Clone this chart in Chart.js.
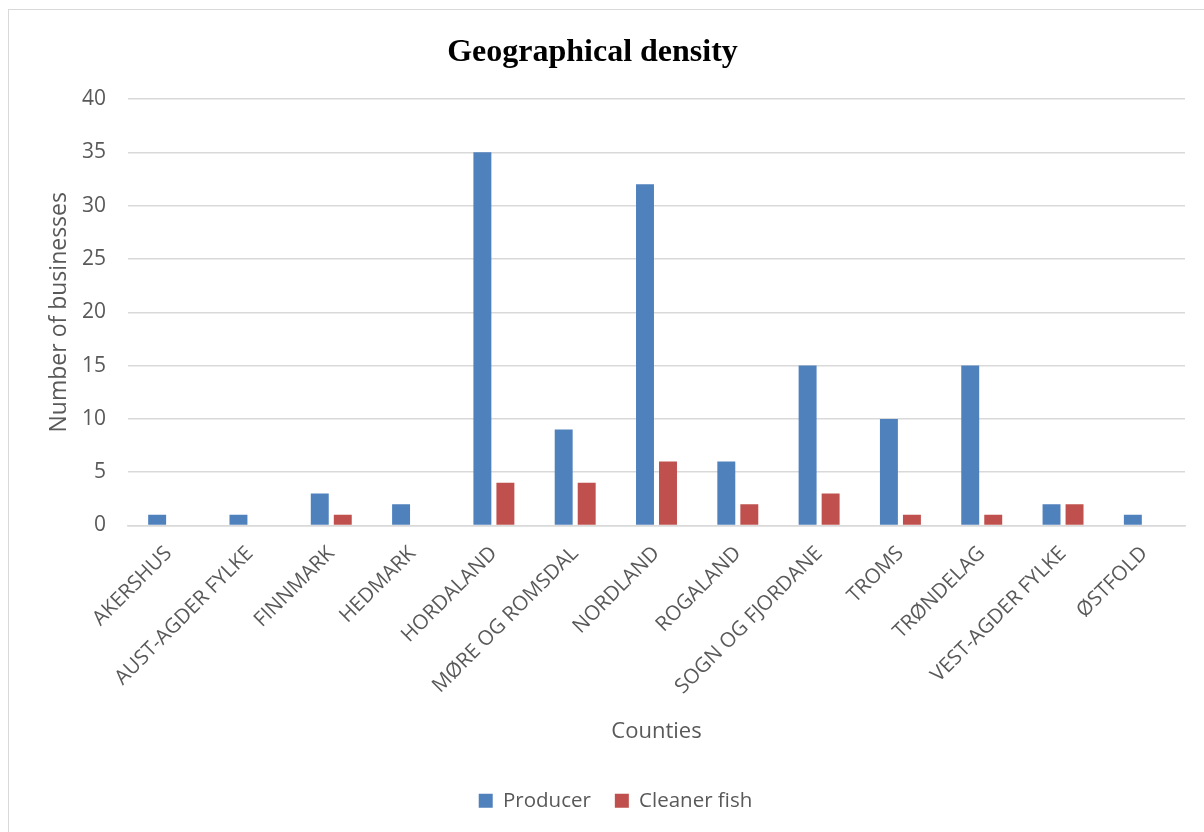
<!DOCTYPE html>
<html>
<head>
<meta charset="utf-8">
<script src="https://cdn.jsdelivr.net/npm/chart.js@4"></script>
<style>
  html, body { margin: 0; padding: 0; background: #ffffff; }
  #wrap { position: relative; width: 1204px; height: 832px; overflow: hidden; }
  #frame { position: absolute; left: 8px; top: 9px; width: 1200px; height: 830px; border: 1px solid #d9d9d9; box-sizing: border-box; }
  #c { position: absolute; left: 0; top: 0; }
</style>
</head>
<body>
<div id="wrap">
  <div id="frame"></div>
  <canvas id="c" width="1204" height="832"></canvas>
</div>
<script>
// Counties of Norway and number of businesses per county
const counties = [
  'AKERSHUS', 'AUST-AGDER FYLKE', 'FINNMARK', 'HEDMARK', 'HORDALAND',
  'MØRE OG ROMSDAL', 'NORDLAND', 'ROGALAND', 'SOGN OG FJORDANE', 'TROMS',
  'TRØNDELAG', 'VEST-AGDER FYLKE', 'ØSTFOLD'
];
const producer    = [1, 1, 3, 2, 35, 9, 32, 6, 15, 10, 15, 2, 1];
const cleanerFish = [0, 0, 1, 0, 4, 4, 6, 2, 3, 1, 1, 2, 0];
const yTicks = [0, 5, 10, 15, 20, 25, 30, 35, 40];

const textColor = '#595959';
const gridColor = '#d9d9d9';
const sans = "'Open Sans', 'Noto Sans', sans-serif";

// nudge the legend row a little to the right of the canvas centre
const legendShift = {
  id: 'legendShift',
  afterLayout(chart) {
    if (chart.legend) { chart.legend.left += 23; chart.legend.right += 23; }
  }
};

new Chart(document.getElementById('c'), {
  type: 'bar',
  data: {
    labels: counties,
    datasets: [
      { label: 'Producer', data: producer, backgroundColor: '#4f81bd',
        categoryPercentage: 0.566, barPercentage: 0.78 },
      { label: 'Cleaner fish', data: cleanerFish, backgroundColor: '#c0504d',
        categoryPercentage: 0.566, barPercentage: 0.78 }
    ]
  },
  plugins: [legendShift],
  options: {
    responsive: false,
    animation: false,
    layout: { padding: { left: 0, right: 19, top: 0, bottom: 11 } },
    plugins: {
      title: {
        display: true,
        text: 'Geographical density',
        color: '#000000',
        font: { family: "'Liberation Serif', 'Times New Roman', serif", size: 32, weight: 'bold' },
        padding: { top: 34, bottom: 26.6 }
      },
      legend: {
        position: 'bottom',
        labels: {
          color: textColor,
          font: { family: sans, size: 20.5 },
          boxWidth: 14, boxHeight: 14,
          padding: 24
        }
      },
      tooltip: { enabled: false }
    },
    scales: {
      x: {
        grid: { display: false, drawTicks: false },
        border: { display: true, color: gridColor, width: 1.5 },
        ticks: {
          color: textColor,
          font: { family: sans, size: 20.5 },
          minRotation: 45, maxRotation: 45,
          autoSkip: false,
          padding: 16
        },
        title: {
          display: true,
          text: 'Counties',
          color: textColor,
          font: { family: sans, size: 22 },
          padding: { top: 0, bottom: 22 }
        },
        afterFit: (s) => { s.height = 241; }
      },
      y: {
        min: 0, max: 40,
        afterBuildTicks: (s) => { s.ticks = yTicks.map(v => ({ value: v })); },
        grid: { color: gridColor, lineWidth: 1.5, drawTicks: false },
        border: { display: false },
        ticks: {
          color: textColor,
          font: { family: sans, size: 21 },
          padding: 22
        },
        title: {
          display: true,
          text: 'Number of businesses',
          color: textColor,
          font: { family: sans, size: 23 },
          padding: { top: 46, bottom: 0 }
        },
        afterFit: (s) => { s.width = 128; }
      }
    }
  }
});
</script>
</body>
</html>
